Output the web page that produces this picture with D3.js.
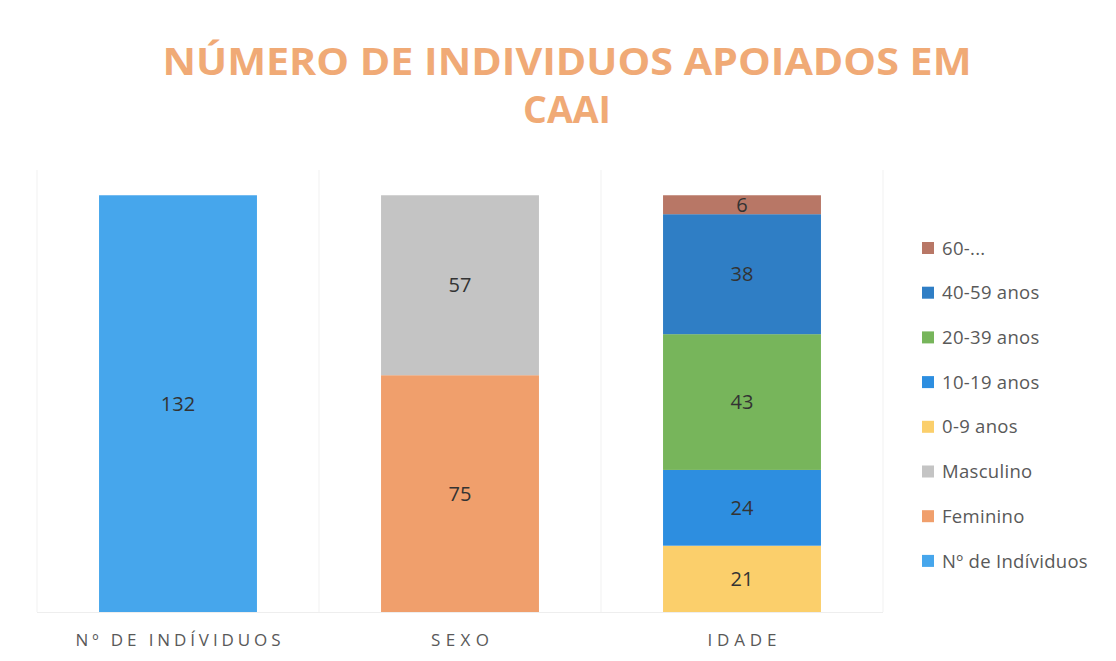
<!DOCTYPE html>
<html>
<head>
<meta charset="utf-8">
<script src="https://cdn.jsdelivr.net/npm/d3@7"></script>
<style>
  html, body { margin: 0; padding: 0; background: #ffffff; }
  svg { display: block; }
</style>
</head>
<body>
<svg id="chart" width="1116" height="661"></svg>
<script>
const categories = ["Nº DE INDÍVIDUOS", "SEXO", "IDADE"];
const seriesNames = ["Nº de Indíviduos", "Feminino", "Masculino", "0-9 anos", "10-19 anos", "20-39 anos", "40-59 anos", "60-..."];
const seriesValues = [
  [132, 0, 0],
  [0, 75, 0],
  [0, 57, 0],
  [0, 0, 21],
  [0, 0, 24],
  [0, 0, 43],
  [0, 0, 38],
  [0, 0, 6]
];
const seriesColors = ["#46A6EC", "#F09F6C", "#C4C4C4", "#FBCF6B", "#2D8EE0", "#77B55B", "#2F7EC5", "#B87766"];
const titleLines = ["NÚMERO DE INDIVIDUOS APOIADOS EM", "CAAI"];
const yMax = 140;

const svg = d3.select("#chart");
const font = "'Open Sans', 'DejaVu Sans', sans-serif";

const plot = { left: 37, right: 883, top: 170, bottom: 612 };

const x = d3.scaleBand().domain(categories).range([plot.left, plot.right]).paddingInner(0.44).paddingOuter(0.22);
const xBand = d3.scaleBand().domain(categories).range([plot.left, plot.right]);
const y = d3.scaleLinear().domain([0, yMax]).range([plot.bottom, plot.top]);

// faint category separators
const seps = [plot.left].concat(categories.map(c => xBand(c) + xBand.bandwidth()));
svg.append("g").selectAll("line").data(seps).join("line")
  .attr("x1", d => d).attr("x2", d => d)
  .attr("y1", plot.top).attr("y2", plot.bottom)
  .attr("stroke", "#f1f1f1").attr("stroke-width", 1);

// baseline
svg.append("line")
  .attr("x1", plot.left).attr("x2", plot.right)
  .attr("y1", plot.bottom + 0.5).attr("y2", plot.bottom + 0.5)
  .attr("stroke", "#eeeeee");

// stacked data
const rows = categories.map((c, i) => {
  const r = { cat: c };
  seriesNames.forEach((s, j) => r[s] = seriesValues[j][i]);
  return r;
});
const stacked = d3.stack().keys(seriesNames)(rows);
const color = d3.scaleOrdinal().domain(seriesNames).range(seriesColors);

const layers = svg.append("g").selectAll("g").data(stacked).join("g")
  .attr("fill", d => color(d.key));

layers.selectAll("rect").data(d => d.filter(p => p[1] - p[0] > 0)).join("rect")
  .attr("x", d => x(d.data.cat))
  .attr("width", x.bandwidth())
  .attr("y", d => y(d[1]))
  .attr("height", d => y(d[0]) - y(d[1]));

layers.selectAll("text").data(d => d.filter(p => p[1] - p[0] > 0)).join("text")
  .attr("x", d => x(d.data.cat) + x.bandwidth() / 2)
  .attr("y", d => (y(d[0]) + y(d[1])) / 2)
  .attr("dy", "0.36em")
  .attr("text-anchor", "middle")
  .attr("font-family", font)
  .attr("font-size", 20)
  .attr("fill", "#333333")
  .text(d => d[1] - d[0]);

// x axis labels
const xAxis = d3.axisBottom(xBand).tickSize(0).tickPadding(0);
const gx = svg.append("g").attr("transform", `translate(0,${plot.bottom})`).call(xAxis);
gx.select(".domain").remove();
const axisWidths = { "Nº DE INDÍVIDUOS": 205, "SEXO": 58, "IDADE": 69 };
gx.selectAll(".tick text")
  .attr("y", 34)
  .attr("dy", 0)
  .attr("font-family", font)
  .attr("font-size", 17)
  .attr("fill", "#595959")
  .attr("textLength", d => axisWidths[d])
  .attr("lengthAdjust", "spacing");

// title
svg.append("g").selectAll("text").data(titleLines).join("text")
  .attr("x", 567)
  .attr("y", (d, i) => 75 + i * 48)
  .attr("text-anchor", "middle")
  .attr("font-family", font)
  .attr("font-weight", "bold")
  .attr("font-size", 37)
  .attr("fill", "#F0AA76")
  .attr("textLength", (d, i) => i === 0 ? 809 : 88)
  .attr("lengthAdjust", "spacingAndGlyphs")
  .text(d => d);

// legend
const legendItems = seriesNames.slice().reverse();
const legend = svg.append("g").selectAll("g").data(legendItems).join("g")
  .attr("transform", (d, i) => `translate(922,${248 + i * 44.7})`);
legend.append("rect")
  .attr("x", 0).attr("y", -6).attr("width", 12).attr("height", 12)
  .attr("fill", d => color(d));
legend.append("text")
  .attr("x", 20).attr("y", 0).attr("dy", "0.36em")
  .attr("font-family", font)
  .attr("font-size", 18.5)
  .attr("letter-spacing", "0.3px")
  .attr("fill", "#595959")
  .text(d => d);
</script>
</body>
</html>
